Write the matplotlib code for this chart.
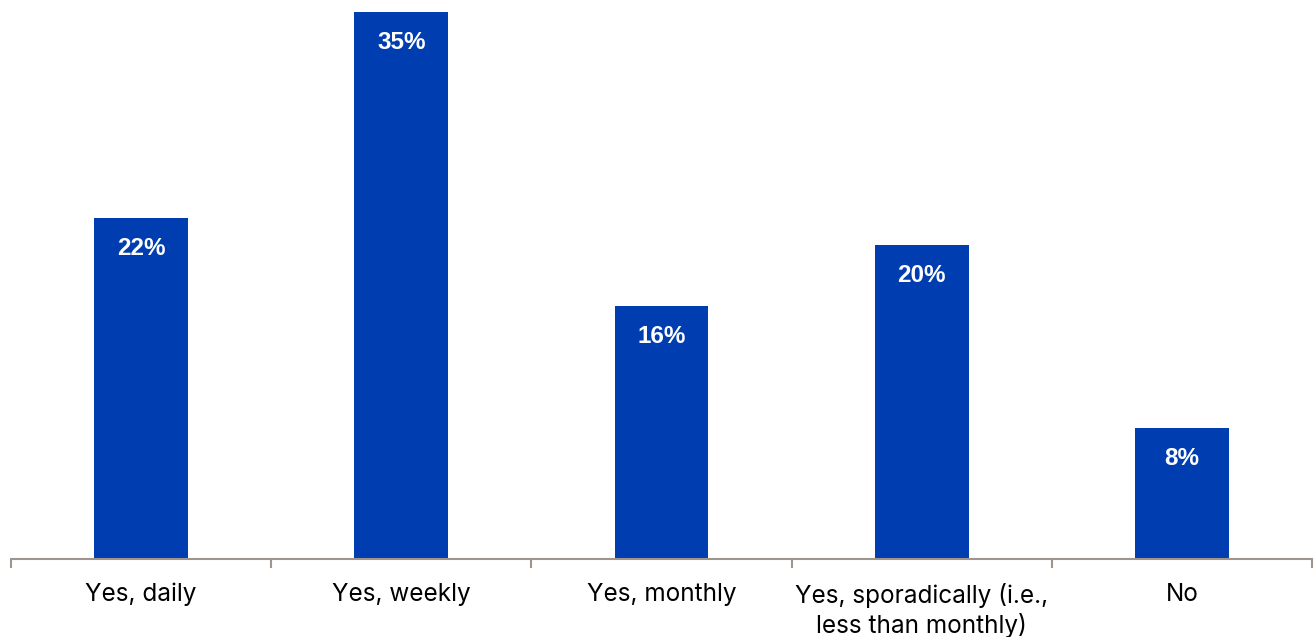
import numpy as np
import matplotlib.pyplot as plt

categories = ["Yes, daily", "Yes, weekly", "Yes, monthly",
              "Yes, sporadically (i.e.,\nless than monthly)", "No"]
values = [21.8, 35.0, 16.2, 20.1, 8.4]
labels = ["22%", "35%", "16%", "20%", "8%"]

bar_color = "#003DB1"
axis_color = "#A0958C"

fig = plt.figure(figsize=(13.14, 6.37), dpi=100)
ax = fig.add_axes([11 / 1314, 78 / 637, 1301 / 1314, 559 / 637])

x = np.arange(len(categories))
ax.bar(x, values, width=0.36, color=bar_color)

for xi, v, lab in zip(x, values, labels):
    ax.annotate(lab, (xi, v), xytext=(0, -22), textcoords="offset points",
                ha="center", va="center", color="white", fontsize=17.5,
                fontweight="bold", family="Liberation Sans")

ax.set_xlim(-0.5, len(categories) - 0.5)
ax.set_ylim(0, 35.77)

for s in ["top", "right", "left"]:
    ax.spines[s].set_visible(False)
ax.spines["bottom"].set_color(axis_color)
ax.spines["bottom"].set_linewidth(1.5)
ax.set_yticks([])

ax.set_xticks(x)
ax.set_xticklabels(categories, family="Inter", fontsize=17.5, linespacing=1.25)
ax.tick_params(axis="x", which="major", length=0, pad=17)
ax.set_xticks(np.arange(len(categories) + 1) - 0.5, minor=True)
ax.tick_params(axis="x", which="minor", length=6.5, width=1.5, color=axis_color)

fig.savefig("out.png", dpi=100)
